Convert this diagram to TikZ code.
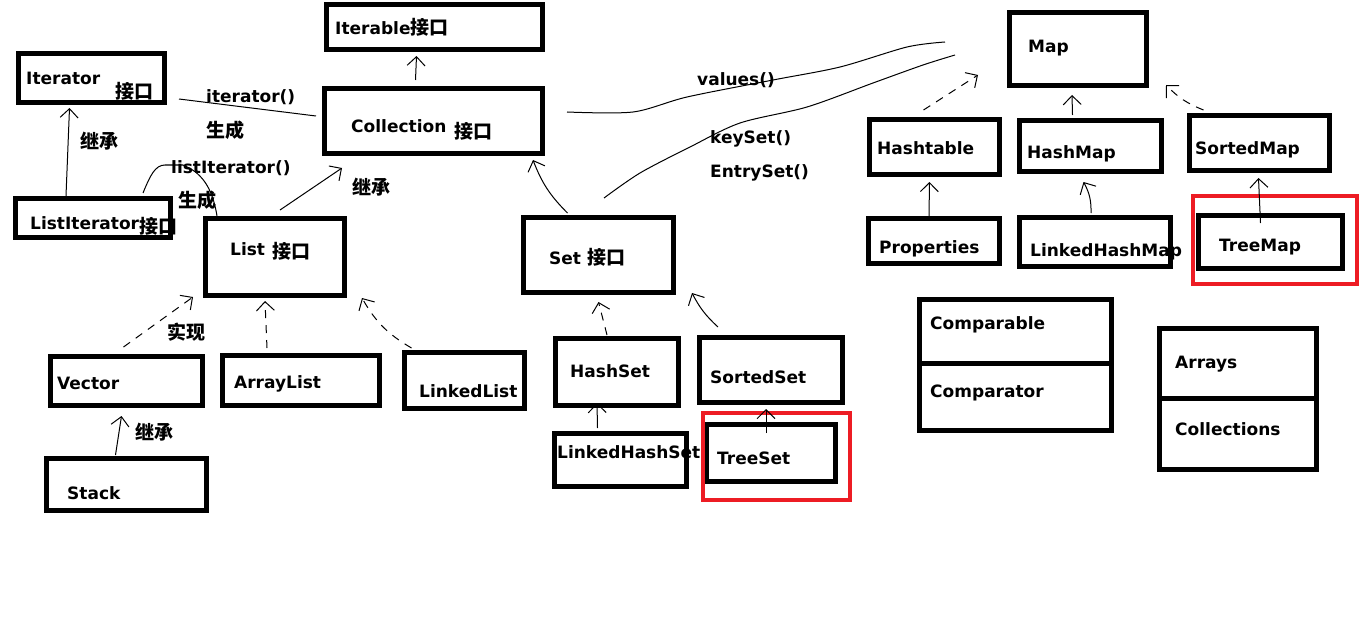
\documentclass[tikz,border=0pt]{standalone}
\usepackage{fontspec}
\setmainfont{DejaVu Sans}
\newfontfamily\cjkfont{Noto Sans CJK SC}
\newcommand\zh[1]{{\cjkfont\bfseries\fontsize{19}{21}\selectfont #1}}
\usetikzlibrary{arrows.meta,calc}
\definecolor{paintred}{HTML}{ED1C24}
\tikzset{
  box/.style={draw, line width=5pt, inner sep=0pt},
  redbox/.style={draw=paintred, line width=4pt, inner sep=0pt},
  lbl/.style={anchor=west, inner sep=0pt, font=\bfseries\fontsize{17}{20}\selectfont, text height=12pt, text depth=0pt},
  zhl/.style={anchor=west, inner sep=0pt, font=\cjkfont\bfseries\fontsize{19}{21}\selectfont, text height=12pt, text depth=0pt},
  con/.style={line width=1pt},
  arr/.style={con, -{Straight Barb[length=9pt,width=18pt,line width=1pt]}},
  dsh/.style={dash pattern=on 8pt off 7pt}
}
\begin{document}
\begin{tikzpicture}[x=1pt,y=-1pt]
\useasboundingbox (0,0) rectangle (1360,623);
\fill[white] (0,0) rectangle (1360,623);
% boxes
\node[box, minimum width=216pt, minimum height=45pt] (iterable) at (434.5,27) {};
\node[box, minimum width=146pt, minimum height=49pt] (iterator) at (91.5,78) {};
\node[box, minimum width=218pt, minimum height=65pt] (collection) at (433.5,121) {};
\node[box, minimum width=155pt, minimum height=39pt] (listiter) at (93,218) {};
\node[box, minimum width=139pt, minimum height=77pt] (list) at (275,257) {};
\node[box, minimum width=150pt, minimum height=75pt] (set) at (598.5,255) {};
\node[box, minimum width=152pt, minimum height=49pt] (vector) at (126.5,381) {};
\node[box, minimum width=157pt, minimum height=50pt] (arraylist) at (301,380.5) {};
\node[box, minimum width=120pt, minimum height=56pt] (linkedlist) at (464.5,380.5) {};
\node[box, minimum width=160pt, minimum height=52pt] (stack) at (126.5,484.5) {};
\node[box, minimum width=123pt, minimum height=67pt] (hashset) at (617,372) {};
\node[box, minimum width=143pt, minimum height=65pt] (sortedset) at (771,370) {};
\node[box, minimum width=132pt, minimum height=53pt] (linkedhashset) at (620.5,460) {};
\node[box, minimum width=129pt, minimum height=57pt] (treeset) at (771,453) {};
\node[redbox, minimum width=147pt, minimum height=87pt] (treesetmark) at (776.5,456.5) {};
\node[box, minimum width=192pt, minimum height=131pt] (cmpbox) at (1015.5,365) {};
\node[box, minimum width=157pt, minimum height=141pt] (arrbox) at (1238,399) {};
\node[box, minimum width=137pt, minimum height=73pt] (map) at (1078,49) {};
\node[box, minimum width=130pt, minimum height=55pt] (hashtable) at (934.5,147) {};
\node[box, minimum width=142pt, minimum height=51pt] (hashmap) at (1090.5,146) {};
\node[box, minimum width=140pt, minimum height=55pt] (sortedmap) at (1259.5,143) {};
\node[box, minimum width=131pt, minimum height=45pt] (properties) at (934,241) {};
\node[box, minimum width=151pt, minimum height=49pt] (linkedhashmap) at (1095,242) {};
\node[box, minimum width=144pt, minimum height=53pt] (treemap) at (1270.5,242) {};
\node[redbox, minimum width=164pt, minimum height=88pt] (treemapmark) at (1275,240) {};
% dividers
\draw[line width=5pt] ($(cmpbox.west)+(0,-2)$) -- ($(cmpbox.east)+(0,-2)$);
\draw[line width=5pt] ($(arrbox.west)+(0,-1)$) -- ($(arrbox.east)+(0,-1)$);
% texts
\node[lbl] (tIterable) at (335,29) {Iterable\zh{接口}};
\node[lbl] (tIterator) at (26,79) {Iterator};
\node[zhl] (tIteratorZ) at (115,93) {接口};
\node[lbl] (tCollection) at (351,127) {Collection};
\node[zhl] (tCollectionZ) at (454,133) {接口};
\node[lbl] (tListIter) at (30,223) {ListIterator};
\node[zhl] (tListIterZ) at (139,227) {接口};
\node[lbl] (tList) at (230,249) {List};
\node[zhl] (tListZ) at (272,252) {接口};
\node[lbl] (tSet) at (549,258) {Set \zh{接口}};
\node[lbl] (tVector) at (57,383) {Vector};
\node[lbl] (tArrayList) at (234,382) {ArrayList};
\node[lbl] (tLinkedList) at (419,391) {LinkedList};
\node[lbl] (tStack) at (67,493) {Stack};
\node[lbl] (tHashSet) at (570,371) {HashSet};
\node[lbl] (tSortedSet) at (710,377) {SortedSet};
\node[lbl] (tLinkedHashSet) at (557,452) {LinkedHashSet};
\node[lbl] (tTreeSet) at (717,458) {TreeSet};
\node[lbl] (tComparable) at (930,323) {Comparable};
\node[lbl] (tComparator) at (930,391) {Comparator};
\node[lbl] (tArrays) at (1175,362) {Arrays};
\node[lbl] (tCollections) at (1175,429) {Collections};
\node[lbl] (tMap) at (1028,47) {Map};
\node[lbl] (tHashtable) at (877,149) {Hashtable};
\node[lbl] (tHashMap) at (1027,152) {HashMap};
\node[lbl] (tSortedMap) at (1195,148) {SortedMap};
\node[lbl] (tProperties) at (879,247) {Properties};
\node[lbl] (tLinkedHashMap) at (1030,250) {LinkedHashMap};
\node[lbl] (tTreeMap) at (1219,245) {TreeMap};
% connector labels
\node[lbl] (lIterator) at (206,97) {iterator()};
\node[zhl] (lGen1) at (206,132) {生成};
\node[zhl] (lInh1) at (80,143) {继承};
\node[lbl] (lListIter) at (171,167) {listIterator()};
\node[zhl] (lGen2) at (178,201) {生成};
\node[zhl] (lInh2) at (352,188) {继承};
\node[zhl] (lImpl) at (167,333) {实现};
\node[zhl] (lInh3) at (135,433) {继承};
\node[lbl] (lValues) at (697,80) {values()};
\node[lbl] (lKeySet) at (710,138) {keySet()};
\node[lbl] (lEntrySet) at (710,172) {EntrySet()};
% connectors
\draw[arr] ($(listiter.north)+(-27,0)$) -- ($(iterator.south)+(-22,3)$);
\draw[arr] ($(collection.north)+(-18,-6)$) -- ($(iterable.south)+(-18,4)$);
\draw[con] ($(iterator.east)+(12,21)$) -- ($(collection.west)+(-6,-5)$);
\draw[con] ($(listiter.north)+(50,-3)$)
  .. controls (150,176) and (155,165) .. (165,165) -- (183,165)
  .. controls (200,172) and (212,185) .. ($(list.north west)+(14,0)$);
\draw[arr] ($(list.north)+(5,-6)$) -- ($(collection.south west)+(20,12)$);
\draw[arr] ($(set.north)+(-31,-2)$) to[bend left=12] ($(collection.south east)+(-12,4)$);
\coordinate (v1) at ($(collection.east)+(22,-9)$);
\coordinate (v2) at ($(map.west)+(-62,-7)$);
\draw[con] plot[smooth, tension=0.5] coordinates {(v1) (633,112) (687,97) (773,80) (840,67) (907,47) (v2)};
\coordinate (k1) at ($(set.north east)+(-72,-17)$);
\coordinate (k2) at ($(map.west)+(-52,6)$);
\draw[con] plot[smooth, tension=0.5] coordinates {(k1) (640,173) (690,147) (740,123) (807,107) (873,83) (923,65) (k2)};
\draw[arr,dsh] ($(hashtable.north)+(-11,-7)$) -- ($(map.west)+(-29,26)$);
\draw[arr] ($(hashmap.north)+(-18,-3)$) -- ($(map.south)+(-6,7)$);
\draw[arr,dsh] ($(sortedmap.north)+(-56,-3)$) to[bend left=12] ($(map.south east)+(17,-3)$);
\draw[arr] ($(properties.north)+(-5,0)$) -- ($(hashtable.south)+(-5,5)$);
\draw[arr] ($(linkedhashmap.north)+(-4,-2)$) to[bend right=15] ($(hashmap.south)+(-7,8)$);
\draw[arr] ($(treemap.north)+(-10,10)$) -- ($(sortedmap.south)+(-1,5)$);
\draw[arr,dsh] ($(vector.north)+(-3,-7)$) -- ($(list.south west)+(-10,-1)$);
\draw[arr,dsh] ($(arraylist.north)+(-34,-5)$) -- ($(list.south)+(-10,3)$);
\draw[arr,dsh] ($(linkedlist.north)+(-53,-2)$) to[bend left=15] ($(list.south east)+(15,0)$);
\draw[arr] ($(stack.north)+(-11,-1)$) -- ($(vector.south)+(-5,8)$);
\draw[arr,dsh] ($(hashset.north)+(-10,-1)$) -- ($(set.south)+(0,7)$);
\draw[arr] ($(sortedset.north)+(-53,-8)$) to[bend left=10] ($(set.south east)+(16,-2)$);
\draw[arr] ($(linkedhashset.north)+(-23,-3)$) -- ($(hashset.south)+(-20,-5)$);
\draw[arr] ($(treeset.north)+(-5,11)$) -- ($(sortedset.south)+(-5,4)$);
\end{tikzpicture}
\end{document}
